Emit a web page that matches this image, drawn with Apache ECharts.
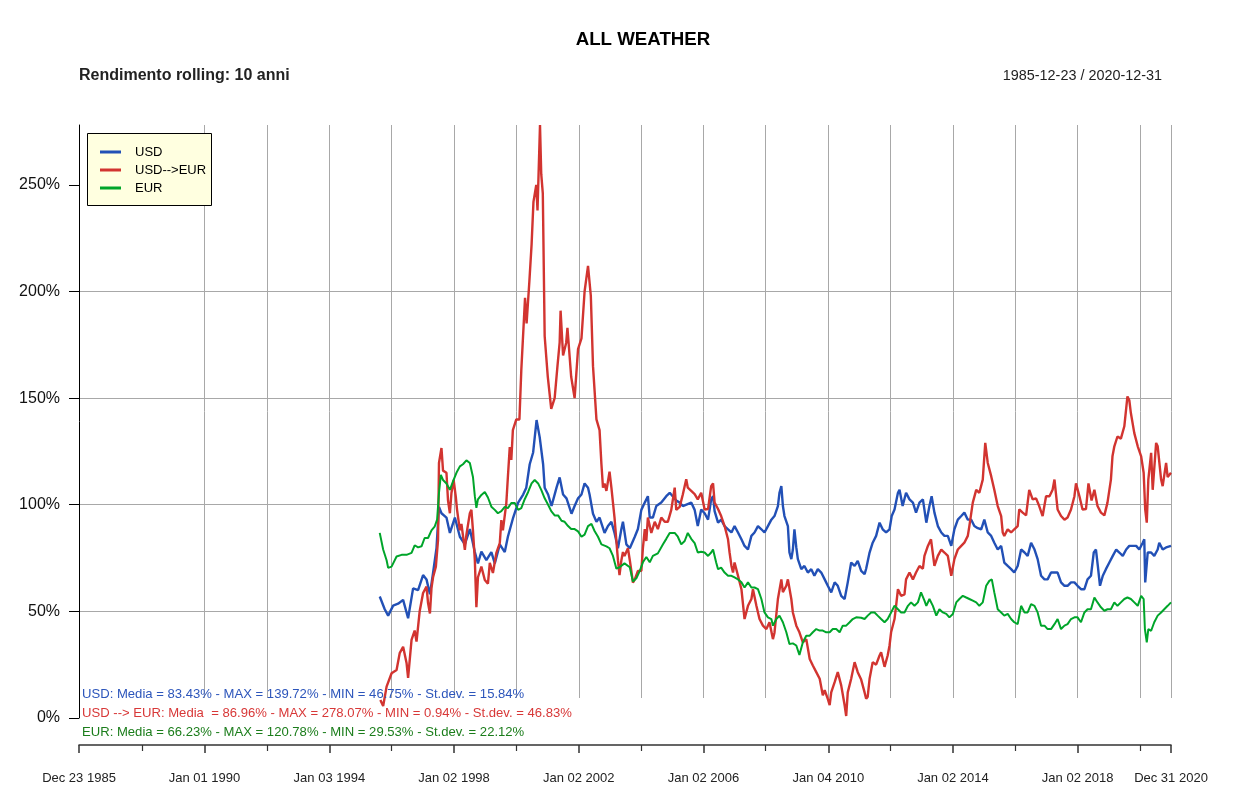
<!DOCTYPE html>
<html><head><meta charset="utf-8">
<script src="https://cdn.jsdelivr.net/npm/echarts@6/dist/echarts.min.js"></script>
<style>html,body{margin:0;padding:0;background:#fff}#main{width:1250px;height:796px}</style>
</head><body><div id="main"></div>
<script>
// ---------- texts ----------
const chartTitle = 'ALL WEATHER';
const subTitle = 'Rendimento rolling: 10 anni';
const periodText = '1985-12-23 / 2020-12-31';
const seriesNames = ['USD', 'USD-->EUR', 'EUR'];
const statsLines = [
  'USD: Media = 83.43% - MAX = 139.72% - MIN = 46.75% - St.dev. = 15.84%',
  'USD --> EUR: Media  = 86.96% - MAX = 278.07% - MIN = 0.94% - St.dev. = 46.83%',
  'EUR: Media = 66.23% - MAX = 120.78% - MIN = 29.53% - St.dev. = 22.12%'
];

// ---------- axes (dates as decimal years) ----------
const xMin = 1985.975;   // Dec 23 1985
const xMax = 2020.997;   // Dec 31 2020
const xLabelValues = [1985.975, 1990.0, 1994.005, 1998.003, 2002.003, 2006.003, 2010.008, 2014.003, 2018.003, 2020.997];
const xLabelTexts = ['Dec 23 1985', 'Jan 01 1990', 'Jan 03 1994', 'Jan 02 1998', 'Jan 02 2002', 'Jan 02 2006', 'Jan 04 2010', 'Jan 02 2014', 'Jan 02 2018', 'Dec 31 2020'];
const xMinorTicks = [1988.0, 1992.0, 1996.0, 2000.0, 2004.0, 2008.0, 2012.0, 2016.0, 2020.0];
const xGridValues = [1988.0, 1990.0, 1992.0, 1994.005, 1996.0, 1998.003, 2000.0, 2002.003, 2004.0, 2006.003, 2008.0, 2010.008, 2012.0, 2014.003, 2016.0, 2018.003, 2020.0, 2020.997];
const yTicks = [0, 50, 100, 150, 200, 250];
const yMax = 278.07;

// ---------- data: USD ----------
const usdYears = [
1995.62,1995.78,1995.89,1996.05,1996.21,1996.37,1996.53,1996.69,1996.85,1997.01,
1997.12,1997.23,1997.33,1997.44,1997.52,1997.60,1997.76,1997.87,1998.03,1998.19,
1998.35,1998.51,1998.67,1998.77,1998.88,1999.04,1999.20,1999.31,1999.47,1999.63,
1999.73,1999.90,2000.06,2000.22,2000.32,2000.43,2000.54,2000.65,2000.75,2000.81,
2000.86,2000.91,2001.02,2001.13,2001.29,2001.39,2001.50,2001.61,2001.77,2001.87,
2001.98,2002.09,2002.19,2002.30,2002.35,2002.46,2002.57,2002.67,2002.83,2002.94,
2003.05,2003.15,2003.26,2003.37,2003.42,2003.53,2003.64,2003.80,2003.90,2004.01,
2004.12,2004.22,2004.28,2004.38,2004.49,2004.65,2004.81,2004.92,2005.13,2005.24,
2005.34,2005.61,2005.72,2005.82,2005.93,2006.04,2006.15,2006.25,2006.31,2006.36,
2006.47,2006.57,2006.68,2006.79,2006.90,2007.00,2007.11,2007.22,2007.32,2007.43,
2007.54,2007.64,2007.75,2007.86,2007.96,2008.07,2008.18,2008.28,2008.39,2008.44,
2008.50,2008.55,2008.60,2008.71,2008.76,2008.82,2008.87,2008.92,2008.98,2009.03,
2009.14,2009.24,2009.35,2009.46,2009.56,2009.67,2009.78,2009.89,2009.99,2010.10,
2010.21,2010.31,2010.42,2010.53,2010.63,2010.74,2010.85,2010.95,2011.06,2011.17,
2011.22,2011.33,2011.43,2011.54,2011.65,2011.75,2011.86,2011.97,2012.04,2012.13,
2012.24,2012.29,2012.39,2012.50,2012.61,2012.72,2012.82,2012.93,2013.04,2013.15,
2013.25,2013.32,2013.41,2013.52,2013.63,2013.73,2013.84,2013.95,2014.05,2014.16,
2014.27,2014.37,2014.48,2014.59,2014.69,2014.80,2014.91,2015.01,2015.12,2015.23,
2015.33,2015.44,2015.55,2015.65,2015.76,2015.87,2015.97,2016.08,2016.19,2016.30,
2016.40,2016.51,2016.62,2016.72,2016.83,2016.94,2017.04,2017.15,2017.26,2017.36,
2017.47,2017.58,2017.68,2017.79,2017.90,2018.00,2018.11,2018.22,2018.32,2018.43,
2018.52,2018.59,2018.65,2018.72,2018.81,2018.91,2019.02,2019.13,2019.24,2019.34,
2019.45,2019.56,2019.66,2019.77,2019.88,2019.98,2020.09,2020.14,2020.17,2020.25,
2020.36,2020.46,2020.57,2020.62,2020.73,2020.84,2020.997];
const usdValues = [
57,51,48,52.7,53.6,55.4,46.75,60.8,60,67,
65,58,68,79.6,99,96,94,86.8,94,85,
81.4,88.6,77.8,72.5,78,74,77.8,72.5,81.4,77.8,
85,94,101,104.8,108,119,124.5,139.72,131.7,132,
119,108,104.8,99.4,108,112.8,104.8,103,95.8,99.4,
103,104.8,110,108,104.8,95.8,92,94,86.8,90,
92,86.8,79.6,88.6,92,81.4,79.6,85,88.6,97.6,
101,104,94,94,99.4,101,104,105.6,102,101,
99.4,101,97.6,90,97.8,96,93,102.5,104,97,
91.6,93,90,88.5,87,90,87,83.8,80.7,79,
85.4,87,90,88.5,87,90,93,94.7,99.4,105.6,
108.7,99.4,94.7,90,77.6,74.5,79,88.5,80,74.5,
69.8,71.3,68.2,69.8,66.7,69.8,68.2,65,62,58.9,
63.6,62,57.3,55.8,63.6,72.9,71.3,73.7,69,67.5,
70,77.6,82.2,85.4,91.6,88.5,87,88.5,94.7,97.8,
105.6,107,99.4,105.6,102.5,101,96.3,101,102.5,91.6,
99.4,104,96.3,90,87,85.4,85.4,80.7,88.5,93,
94.7,96.3,93,93,90,89,88.5,93,87,85.4,
82.2,79,80.7,72.9,71.3,69.8,68.2,71.3,79,77.6,
76,82.2,79,74.5,66.7,65,65,68.2,68.2,68.2,
63.6,62,62,63.6,63.6,62,60.4,60.4,65,66.7,
77.6,79,71.3,62,66.7,69.8,72.9,76,79,77.6,
76,79,80.7,80.7,80.7,79,82.2,83.8,63.6,77.6,
77.6,76,79,82.2,79,80,80.7];

// ---------- data: USD-->EUR ----------
const usdEurYears = [
1995.64,1995.73,1995.84,1996.00,1996.16,1996.26,1996.37,1996.48,1996.53,1996.64,
1996.74,1996.80,1996.90,1997.01,1997.12,1997.17,1997.23,1997.28,1997.33,1997.42,
1997.49,1997.52,1997.60,1997.65,1997.76,1997.81,1997.87,1997.92,1997.99,1998.06,
1998.10,1998.19,1998.24,1998.35,1998.40,1998.51,1998.56,1998.61,1998.67,1998.72,
1998.77,1998.88,1998.99,1999.09,1999.15,1999.25,1999.36,1999.47,1999.52,1999.57,
1999.68,1999.73,1999.79,1999.84,1999.89,2000.00,2000.10,2000.16,2000.28,2000.33,
2000.42,2000.49,2000.55,2000.64,2000.68,2000.76,2000.80,2000.85,2000.91,2001.01,
2001.12,2001.23,2001.32,2001.39,2001.42,2001.50,2001.60,2001.64,2001.76,2001.87,
2001.98,2002.09,2002.19,2002.30,2002.39,2002.46,2002.57,2002.67,2002.73,2002.78,
2002.83,2002.89,2002.99,2003.05,2003.10,2003.15,2003.21,2003.26,2003.31,2003.37,
2003.42,2003.47,2003.58,2003.64,2003.69,2003.74,2003.80,2003.90,2004.01,2004.06,
2004.12,2004.17,2004.22,2004.28,2004.33,2004.44,2004.54,2004.65,2004.76,2004.86,
2004.97,2005.08,2005.13,2005.24,2005.34,2005.45,2005.50,2005.61,2005.72,2005.82,
2005.93,2006.04,2006.15,2006.25,2006.31,2006.36,2006.47,2006.57,2006.68,2006.79,
2006.84,2006.90,2006.95,2007.00,2007.11,2007.22,2007.32,2007.43,2007.54,2007.59,
2007.70,2007.80,2007.91,2008.02,2008.12,2008.23,2008.28,2008.39,2008.50,2008.55,
2008.66,2008.71,2008.82,2008.87,2008.98,2009.08,2009.19,2009.30,2009.41,2009.51,
2009.62,2009.73,2009.83,2009.89,2009.99,2010.05,2010.10,2010.21,2010.31,2010.42,
2010.53,2010.58,2010.63,2010.74,2010.85,2010.95,2011.06,2011.17,2011.22,2011.27,
2011.33,2011.43,2011.54,2011.65,2011.70,2011.81,2011.91,2011.97,2012.02,2012.13,
2012.18,2012.24,2012.34,2012.45,2012.50,2012.61,2012.72,2012.82,2012.93,2013.04,
2013.09,2013.20,2013.30,2013.41,2013.52,2013.63,2013.73,2013.84,2013.95,2014.05,
2014.16,2014.27,2014.37,2014.48,2014.53,2014.64,2014.75,2014.85,2014.96,2015.04,
2015.12,2015.23,2015.33,2015.44,2015.55,2015.60,2015.65,2015.76,2015.87,2015.97,
2016.08,2016.13,2016.24,2016.35,2016.45,2016.56,2016.67,2016.77,2016.88,2016.99,
2017.10,2017.20,2017.26,2017.36,2017.47,2017.58,2017.68,2017.79,2017.90,2017.95,
2018.06,2018.16,2018.27,2018.35,2018.45,2018.54,2018.64,2018.75,2018.86,2018.96,
2019.07,2019.12,2019.18,2019.28,2019.39,2019.50,2019.60,2019.66,2019.71,2019.82,
2019.93,2020.04,2020.12,2020.17,2020.22,2020.27,2020.36,2020.41,2020.52,2020.57,
2020.68,2020.73,2020.84,2020.89,2020.997];
const usdEurValues = [
8.4,5.6,14.7,21,22.5,30.4,33.4,25.8,18.8,36.6,
41,35.8,49.9,58.6,61.6,53.9,49,61,66,71,
83.5,119.6,126.6,116,115,102,96,105.5,111.6,103.7,
97.6,88,91,78.8,86,96,97.6,88,74,52,
66,71,64.7,63,72.7,68,77.4,82,92.8,88,
100.8,113,127,121,135,140,140,163,197,185,
205,222,242,250,238,278.07,255,246,179,160,
145,150,165,176,191,170,176,183,160,150,
173,178,200,212,198,165,140,135,119,108,
110,106.5,115.5,108,101,94,83,74,67,74,
77.8,76,79.6,74,69,63.5,65,69,69,79.6,
88.6,83,94,90,86.8,92,88.6,94,92,92,
97.6,108,97.6,99,104.8,112,108,106.5,105,102.5,
105.6,97.8,98,108.7,110,101,98,94.7,90,83.8,
77.6,71.3,68.2,72.9,66.7,60.4,46.4,52.6,55.8,60.4,
52.6,46.4,43.3,41.7,44.9,37,40,55.8,65,59,
62,65,55.8,49.5,43.3,40.2,35.5,37,27.7,24.6,
21.5,18.4,10.6,13,9,6,12,16.8,21.5,15.3,
6,0.94,12,18.4,26.2,21.5,18,12,9,10,
18.4,26.2,25,29.3,30.8,24,29.3,34,40.2,46.4,
52.6,60.4,57.3,58,65,68.2,65,68.2,71.3,70,
76,80.7,83.8,71.3,76,79,77.6,76,66.7,74.5,
79,80.7,82.2,85.4,90,101,107,105.6,111.8,129,
119.6,113.4,107,99.4,94.7,87,85.4,88.5,87,88.5,
90,97.8,96.3,95,107,102.5,103,99.4,94.7,104,
104,107,111.8,97.8,94.7,93,94,97.8,104,110,
104,97.8,98,110,102,107,99.4,96.3,95,101,
111.8,122.7,127.4,132,131,136.8,150.8,149,143,133.6,
127.4,122.7,115,97.8,91.6,111.8,124.3,107,129,127.4,
111.8,108.7,119.6,113,115];

// ---------- data: EUR ----------
const eurYears = [
1995.62,1995.73,1995.84,1995.89,1996.00,1996.16,1996.32,1996.48,1996.64,1996.74,
1996.85,1996.96,1997.06,1997.17,1997.28,1997.38,1997.46,1997.52,1997.58,1997.65,
1997.76,1997.87,1997.97,1998.08,1998.19,1998.29,1998.40,1998.51,1998.61,1998.67,
1998.72,1998.77,1998.88,1998.99,1999.09,1999.20,1999.31,1999.41,1999.52,1999.63,
1999.73,1999.84,1999.95,2000.06,2000.16,2000.27,2000.38,2000.49,2000.59,2000.70,
2000.80,2000.91,2001.02,2001.12,2001.23,2001.34,2001.45,2001.55,2001.66,2001.76,
2001.87,2001.98,2002.09,2002.19,2002.30,2002.41,2002.51,2002.62,2002.73,2002.89,
2002.99,2003.10,2003.21,2003.31,2003.47,2003.64,2003.74,2003.85,2003.96,2004.06,
2004.17,2004.28,2004.38,2004.54,2004.70,2004.81,2004.92,2005.08,2005.18,2005.29,
2005.40,2005.50,2005.61,2005.72,2005.82,2005.93,2006.04,2006.15,2006.25,2006.31,
2006.41,2006.47,2006.57,2006.68,2006.79,2006.90,2007.00,2007.11,2007.22,2007.32,
2007.43,2007.54,2007.64,2007.75,2007.86,2007.96,2008.07,2008.18,2008.23,2008.34,
2008.44,2008.55,2008.66,2008.76,2008.87,2008.98,2009.08,2009.19,2009.30,2009.41,
2009.51,2009.62,2009.73,2009.83,2009.94,2010.05,2010.15,2010.26,2010.37,2010.47,
2010.58,2010.69,2010.79,2010.90,2010.95,2011.06,2011.17,2011.27,2011.38,2011.49,
2011.59,2011.70,2011.81,2011.91,2012.02,2012.13,2012.24,2012.34,2012.45,2012.56,
2012.66,2012.77,2012.88,2012.98,2013.09,2013.15,2013.25,2013.36,2013.47,2013.57,
2013.68,2013.79,2013.89,2014.00,2014.11,2014.21,2014.32,2014.43,2014.53,2014.64,
2014.75,2014.85,2014.96,2015.07,2015.17,2015.25,2015.33,2015.44,2015.55,2015.65,
2015.76,2015.87,2015.97,2016.08,2016.19,2016.30,2016.40,2016.51,2016.62,2016.72,
2016.83,2016.94,2017.04,2017.15,2017.26,2017.36,2017.47,2017.58,2017.68,2017.79,
2017.90,2018.00,2018.11,2018.22,2018.32,2018.43,2018.54,2018.64,2018.75,2018.86,
2018.96,2019.07,2019.18,2019.28,2019.39,2019.50,2019.60,2019.71,2019.82,2019.93,
2020.04,2020.12,2020.16,2020.22,2020.27,2020.36,2020.46,2020.57,2020.68,2020.78,
2020.89,2020.997];
const eurValues = [
86.8,79,74,70.4,71,75.7,76.5,76.5,77.4,81,
80,80.5,84.4,84.4,88,89.7,93,105.5,114,111.6,
110,107,111,115,118,119,120.78,119.6,113,104,
98.5,102.5,104.6,106,103.4,99.1,97.6,96,97,99,
98.4,100.8,100.8,97.6,98.4,102.6,106,110,111.6,110,
107,103,100,97,95,95,92.5,92,90,88.6,
88.6,87.5,85,86,90,91,87.7,85,81.4,80.5,
79.6,76,70,70.7,72.5,70.7,64,65.5,69,73,
75.5,73,76,77.2,81.4,84,86.8,86.8,85,81.4,
83,86.8,84,82,77.6,78,77.6,76,77.6,79,
72.9,69.8,70.5,68.2,66.7,66.7,65.9,65,63.6,61.2,
63.6,61.2,61.2,60.4,55.8,49.5,47.2,46.4,43.3,46.4,
48,44.9,40.2,34.7,35,34,29.53,35.5,38.6,38.6,
40.2,41.7,41,41,40.2,40.2,41.7,41.7,40.2,43.3,
43.3,44.9,46.4,47.2,46.4,47,46.4,48,49.5,49.5,
48,46.4,44.9,46.4,49.5,52.6,51,49.5,49.5,52.6,
54.2,52.6,54.2,58.9,55,52.6,55.8,52.6,48,51,
49.5,48.8,47.2,48.8,54.2,55.8,57.3,56.5,55.8,55,
54.2,52.6,54.2,62,64.3,65,58.9,51,49.5,48,
48.8,46.4,44.9,44,52.6,49.5,49.5,53.4,52.6,49.5,
43.3,43.3,41.7,41.7,44,46.4,41.7,43.3,44,46.4,
47.2,47.2,44.9,49.5,51,51,56.5,54.2,51.9,50.3,
51,51,54.2,52.6,54.2,55.8,56.5,55.8,54.2,52.6,
57.3,55.8,41.7,35.5,41.7,40.9,44.9,48,49.5,51,
52.6,54.2];

// ---------- styles ----------
const seriesColors = ['#2250b6', '#d23430', '#00a52a'];
const statsColors = ['#2c55bb', '#d83838', '#1b7d1b'];
const FONT = '"Liberation Sans", Arial, Helvetica, sans-serif';

function zip(xs, ys) { return xs.map((x, i) => [x, ys[i]]); }
function xLabel(v) {
  const i = xLabelValues.findIndex(t => Math.abs(t - v) < 1e-6);
  return i >= 0 ? xLabelTexts[i] : '';
}

const chart = echarts.init(document.getElementById('main'), null, { renderer: 'canvas' });

const seriesData = [zip(usdYears, usdValues), zip(usdEurYears, usdEurValues), zip(eurYears, eurValues)];

const graphics = [
  { type: 'text', style: { text: chartTitle, x: 643, y: 40, align: 'center', verticalAlign: 'middle', textAlign: 'center', textVerticalAlign: 'middle', font: 'bold 18.7px ' + FONT, fill: '#000' }, silent: true },
  { type: 'text', style: { text: subTitle, x: 79, y: 76, align: 'left', verticalAlign: 'middle', textAlign: 'left', textVerticalAlign: 'middle', font: 'bold 16px ' + FONT, fill: '#222' }, silent: true },
  { type: 'text', style: { text: periodText, x: 1162, y: 76, align: 'right', verticalAlign: 'middle', textAlign: 'right', textVerticalAlign: 'middle', font: '14.4px ' + FONT, fill: '#222' }, silent: true },
  { type: 'rect', shape: { x: 87.5, y: 133.5, width: 124, height: 72 }, style: { fill: '#ffffe0', stroke: '#000', lineWidth: 1 }, z: 50, silent: true }
];
seriesNames.forEach((name, i) => {
  const y = 152 + i * 18;
  graphics.push({ type: 'line', shape: { x1: 100, y1: y, x2: 121, y2: y }, style: { stroke: seriesColors[i], lineWidth: 3 }, z: 51, silent: true });
  graphics.push({ type: 'text', style: { text: name, x: 135, y: y, align: 'left', verticalAlign: 'middle', textAlign: 'left', textVerticalAlign: 'middle', font: '13px ' + FONT, fill: '#000' }, z: 51, silent: true });
});
statsLines.forEach((t, i) => {
  graphics.push({ type: 'text', style: { text: t, x: 82, y: 694 + i * 19, align: 'left', verticalAlign: 'middle', textAlign: 'left', textVerticalAlign: 'middle', font: '13.1px ' + FONT, fill: statsColors[i] }, z: 50, silent: true });
});

const option = {
  animation: false,
  backgroundColor: '#ffffff',
  grid: [
    { left: 79, top: 125, width: 1092, height: 593, containLabel: false },
    { left: 79, top: 125, width: 1092, height: 573, containLabel: false }
  ],
  xAxis: [
    {
      type: 'value', gridIndex: 0, min: xMin, max: xMax, position: 'bottom', offset: 27,
      axisLine: { show: true, onZero: false, lineStyle: { color: '#333', width: 1.5 } },
      axisTick: { show: true, length: 8, lineStyle: { color: '#333', width: 1.5 }, customValues: xLabelValues },
      axisLabel: { show: true, customValues: xLabelValues, formatter: xLabel, fontSize: 13, fontFamily: FONT, color: '#222', margin: 27, hideOverlap: false },
      splitLine: { show: false }
    },
    {
      type: 'value', gridIndex: 0, min: xMin, max: xMax, position: 'bottom', offset: 27,
      axisLine: { show: false, onZero: false },
      axisTick: { show: true, length: 6, lineStyle: { color: '#333', width: 1.2 }, customValues: xMinorTicks },
      axisLabel: { show: false },
      splitLine: { show: false }
    },
    {
      type: 'value', gridIndex: 1, min: xMin, max: xMax, position: 'bottom',
      axisLine: { show: false, onZero: false },
      axisTick: { show: false, customValues: xGridValues },
      axisLabel: { show: false },
      splitLine: { show: true, showMinLine: false, showMaxLine: true, lineStyle: { color: '#a8a8a8', width: 1 } }
    }
  ],
  yAxis: [
    {
      type: 'value', gridIndex: 0, min: 0, max: yMax,
      axisLine: { show: true, onZero: false, lineStyle: { color: '#000', width: 1 } },
      axisTick: { show: true, length: 10, lineStyle: { color: '#000', width: 1 }, customValues: yTicks },
      axisLabel: { show: true, customValues: yTicks, formatter: v => v + '%', fontSize: 16, fontFamily: FONT, color: '#111', margin: 19 },
      splitLine: { show: true, showMinLine: false, showMaxLine: false, lineStyle: { color: '#a8a8a8', width: 1 } }
    },
    {
      type: 'value', gridIndex: 1, min: 0, max: 1, show: false,
      splitLine: { show: false }
    }
  ],
  series: seriesNames.map((name, i) => ({
    name: name, type: 'line', xAxisIndex: 0, yAxisIndex: 0,
    data: seriesData[i], showSymbol: false, symbol: 'none',
    lineStyle: { color: seriesColors[i], width: i === 2 ? 2 : 2.4 },
    itemStyle: { color: seriesColors[i] },
    z: 3 + i, silent: true
  })),
  graphic: graphics
};
chart.setOption(option);
</script>
</body></html>
